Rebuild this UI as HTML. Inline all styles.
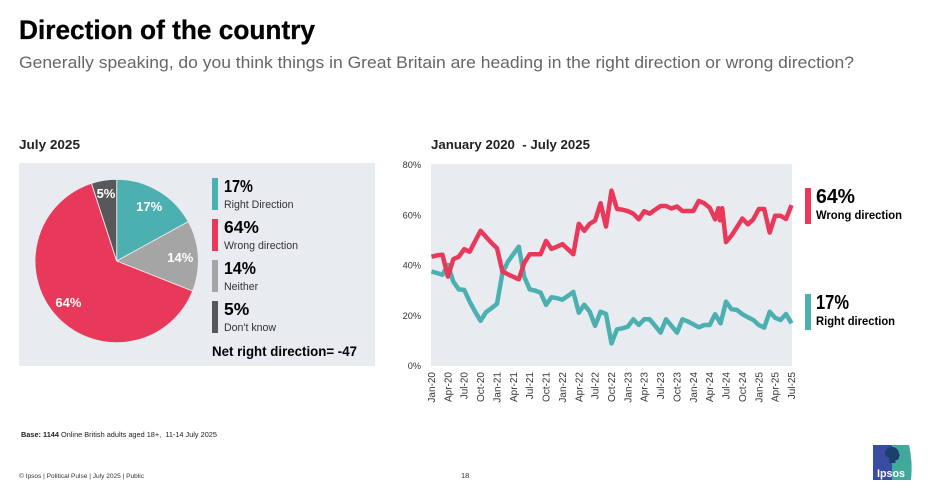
<!DOCTYPE html>
<html lang="en">
<head>
<meta charset="utf-8">
<title>Direction of the country</title>
<style>
html,body{margin:0;padding:0;background:#fff;}
svg{display:block;font-family:"Liberation Sans",sans-serif;}
</style>
</head>
<body>
<svg id="root" width="928" height="493" viewBox="0 0 928 493" xmlns="http://www.w3.org/2000/svg">
  <rect width="928" height="493" fill="#fff"/>
  <text x="19" y="39" font-size="27" font-weight="700" fill="#000" stroke="#000" stroke-width="0.3" textLength="296" lengthAdjust="spacingAndGlyphs">Direction of the country</text>
  <text x="19" y="68" font-size="17" fill="#63666a" textLength="835" lengthAdjust="spacingAndGlyphs">Generally speaking, do you think things in Great Britain are heading in the right direction or wrong direction?</text>

  <text x="19" y="149" font-size="13" font-weight="700" fill="#222" textLength="61" lengthAdjust="spacingAndGlyphs">July 2025</text>
  <text x="431" y="149" font-size="13" font-weight="700" fill="#222" textLength="159" lengthAdjust="spacingAndGlyphs" xml:space="preserve">January 2020  - July 2025</text>

  <rect x="19" y="163" width="356" height="203" fill="#e8ebf0"/>
  <g id="pie"></g>
  <g id="pieLegend"></g>
  <text x="212" y="356" font-size="13.5" font-weight="700" fill="#000" textLength="145" lengthAdjust="spacingAndGlyphs">Net right direction= -47</text>

  <rect x="431" y="164" width="361" height="202" fill="#e8ebf0"/>
  <g id="yAxis"></g>
  <g id="xAxis"></g>
  <g id="lines"></g>

  <rect x="805" y="188" width="6" height="36" fill="#e8395b"/>
  <text x="816" y="203" font-size="20" font-weight="700" fill="#000" textLength="39" lengthAdjust="spacingAndGlyphs">64%</text>
  <text x="816" y="219" font-size="11.5" font-weight="700" fill="#000" textLength="86" lengthAdjust="spacingAndGlyphs">Wrong direction</text>
  <rect x="805" y="294" width="6" height="36" fill="#4db0b0"/>
  <text x="816" y="309" font-size="20" font-weight="700" fill="#000" textLength="33" lengthAdjust="spacingAndGlyphs">17%</text>
  <text x="816" y="325" font-size="11.5" font-weight="700" fill="#000" textLength="79" lengthAdjust="spacingAndGlyphs">Right direction</text>

  <text x="21" y="437" font-size="7.5" fill="#222" textLength="196" lengthAdjust="spacingAndGlyphs" xml:space="preserve"><tspan font-weight="700">Base: 1144</tspan> Online British adults aged 18+,  11-14 July 2025</text>
  <text x="19" y="478" font-size="6.6" fill="#333" textLength="125" lengthAdjust="spacingAndGlyphs">© Ipsos | Political Pulse | July 2025 | Public</text>
  <text x="461" y="478" font-size="7.5" fill="#333">18</text>

  <g>
    <path d="M873 445H892V480H873Z" fill="#3a4ba3"/>
    <path d="M892 445H909Q913 462 911 480H892Z" fill="#41a99c"/>
    <path d="M892 447c-4 0-7 3-7 6 0 3 2 4 4 5 1 1 1 3 0 5h7c-1-1-1-2 0-3 2 0 3-1 3-3l1-2-1-1c0-4-3-7-7-7Z" fill="#1d3f6e"/>
    <text x="877" y="477" font-size="11" font-weight="700" fill="#fff" textLength="28" lengthAdjust="spacingAndGlyphs">Ipsos</text>
  </g>
</svg>
<script>
// Pie data
const pieCategories = ['Right Direction', 'Neither', 'Wrong direction', "Don't know"];
const pieValues = [17, 14, 64, 5];
const pieColors = ['#4db0b0', '#a5a5a5', '#e8395b', '#58585a'];
const legendOrder = [0, 2, 1, 3];

// Line chart data
const tickLabels = ['Jan-20','Apr-20','Jul-20','Oct-20','Jan-21','Apr-21','Jul-21','Oct-21','Jan-22','Apr-22','Jul-22','Oct-22','Jan-23','Apr-23','Jul-23','Oct-23','Jan-24','Apr-24','Jul-24','Oct-24','Jan-25','Apr-25','Jul-25'];
const yTicks = [0, 20, 40, 60, 80];
const wrongMonths = [0,1,2,3,4,5,6,7,8,9,10,11,12,13,14,15,16,17,18,19,20,21,22,23,24,25,26,27,28,29,30,31,32,33,34,35,36,37,38,39,40,41,42,43,44,45,46,47,48,49,50,51,52,52.6,52.9,53.3,54,55,56,57,58,59,60,61,62,63,64,65,66];
const wrongDirection = [43.5,44,44.3,35.6,42.5,43.5,46.5,45.5,49.7,53.8,51.4,49,46.9,37.6,36.5,35.5,34.5,41,44.5,44.5,44.5,49.8,46.6,47.5,48.5,46.5,44.5,56.6,53.8,56.6,57.9,64.8,55.5,69.8,62.5,62.2,61.6,60.6,58.4,61.6,60.6,62.2,63.7,63.7,62.7,63.5,61.7,61.7,61.7,65.7,64.8,63,58.4,62.8,58,62.8,49.3,51.9,55.3,58.7,56.4,58.4,62.5,62.5,53.1,59.8,59.8,58.5,64];
const rightMonths = [0,1,2,3,4,5,6,7,8,9,10,11,12,13,14,15,16,17,18,19,20,21,22,23,24,25,26,27,28,29,30,31,32,33,34,35,36,37,38,39,40,41,42,43,44,45,46,47,48,49,50,51,52,53,54,55,56,57,58,59,60,61,62,63,64,65,66];
const rightDirection = [37.6,37,36.3,40.2,33.6,30.5,30.3,25.6,21.6,18,21.4,23,24.7,37,41.5,44.5,47.5,35.6,30.5,30,29.2,24.3,27.4,27,26.4,27.9,29.5,21.2,24.4,21.6,16,21.6,20.7,9,14.6,15,15.7,18.6,16.3,18.6,18.6,16,13.3,18.6,16,13.3,18.6,17.7,16.6,15.4,16.3,16.3,20.6,17,25.6,22.6,22.3,20.6,19.4,18.3,16.3,15.3,21.6,19.2,18.3,20.7,17];

const NS = 'http://www.w3.org/2000/svg';
function make(tag, attrs, parent, text) {
  const el = document.createElementNS(NS, tag);
  for (const k in attrs) el.setAttribute(k, attrs[k]);
  if (text !== undefined) el.textContent = text;
  parent.appendChild(el);
  return el;
}
function xScale(month) { return 431.5 + month * (791.5 - 431.5) / 66; }
function yScale(pct) { return 366 - pct * (366 - 165) / 80; }

// Pie
const pieGroup = document.getElementById('pie');
const cx = 116.7, cy = 261, radius = 81.7;
const pieTotal = pieValues.reduce((a, b) => a + b, 0);
let cumulative = 0;
pieValues.forEach((v, i) => {
  const a0 = cumulative / pieTotal * 2 * Math.PI;
  cumulative += v;
  const a1 = cumulative / pieTotal * 2 * Math.PI;
  const large = a1 - a0 > Math.PI ? 1 : 0;
  const d = 'M' + cx + ' ' + cy +
    'L' + (cx + radius * Math.sin(a0)) + ' ' + (cy - radius * Math.cos(a0)) +
    'A' + radius + ' ' + radius + ' 0 ' + large + ' 1 ' + (cx + radius * Math.sin(a1)) + ' ' + (cy - radius * Math.cos(a1)) + 'Z';
  const slice = make('path', {d: d, fill: pieColors[i], stroke: '#e8ebf0', 'stroke-width': 0.9}, pieGroup);
  
  
  const mid = (a0 + a1) / 2;
  const labelRadius = v < 10 ? 0.84 : (v > 50 ? 0.76 : 0.78);
  const label = make('text', {
    x: cx + radius * labelRadius * Math.sin(mid) - (v > 50 ? 3 : 0),
    y: cy - radius * labelRadius * Math.cos(mid) + (v > 50 ? 3.5 : 5),
    'font-size': 13, 'font-weight': 700, fill: '#fff', 'text-anchor': 'middle'
  }, pieGroup, v + '%');
  
  
});

// Pie legend
const legendGroup = document.getElementById('pieLegend');
legendOrder.forEach((idx, row) => {
  const top = 178 + row * 41;
  const swatch = make('rect', {x: 212, y: top, width: 6, height: 32, fill: pieColors[idx]}, legendGroup);
  
  
  const valueText = pieValues[idx] + '%';
  const narrowDigits = valueText.split('').filter(c => c === '1' || c === '7').length;
  const digitCount = valueText.length - 1;
  const value = make('text', {
    x: 224, y: top + 14, 'font-size': 17.5, 'font-weight': 700, fill: '#000',
    textLength: 15.5 + digitCount * 9.7 - narrowDigits * 3, lengthAdjust: 'spacingAndGlyphs'
  }, legendGroup, valueText);
  
  
  const name = make('text', {x: 224, y: top + 30, 'font-size': 10.6, fill: '#333'}, legendGroup, pieCategories[idx]);
  
  
});

// Y axis
const yGroup = document.getElementById('yAxis');
yTicks.forEach(t => {
  const lab = make('text', {x: 421, y: yScale(t) + 3, 'font-size': 9.2, fill: '#333', 'text-anchor': 'end'}, yGroup, t + '%');
  
  
});

// X axis
const xGroup = document.getElementById('xAxis');
tickLabels.forEach((t, i) => {
  const x = xScale(i * 3) + 3.5;
  const lab = make('text', {
    x: x, y: 372, 'font-size': 10, fill: '#333', 'text-anchor': 'end',
    transform: 'rotate(-90 ' + x + ' 372)'
  }, xGroup, t);
  
  
});

// Lines
const lineGroup = document.getElementById('lines');
function drawLine(months, values, color, name) {
  const pts = values.map((v, i) => xScale(months[i]).toFixed(1) + ',' + yScale(v).toFixed(1)).join(' ');
  const line = make('polyline', {points: pts, fill: 'none', stroke: color, 'stroke-width': 4.5, 'stroke-linejoin': 'round', 'stroke-linecap': 'butt'}, lineGroup);
  
  
}
drawLine(rightMonths, rightDirection, '#4db0b0', 'right-direction-line');
drawLine(wrongMonths, wrongDirection, '#e8395b', 'wrong-direction-line');
</script>
</body>
</html>
